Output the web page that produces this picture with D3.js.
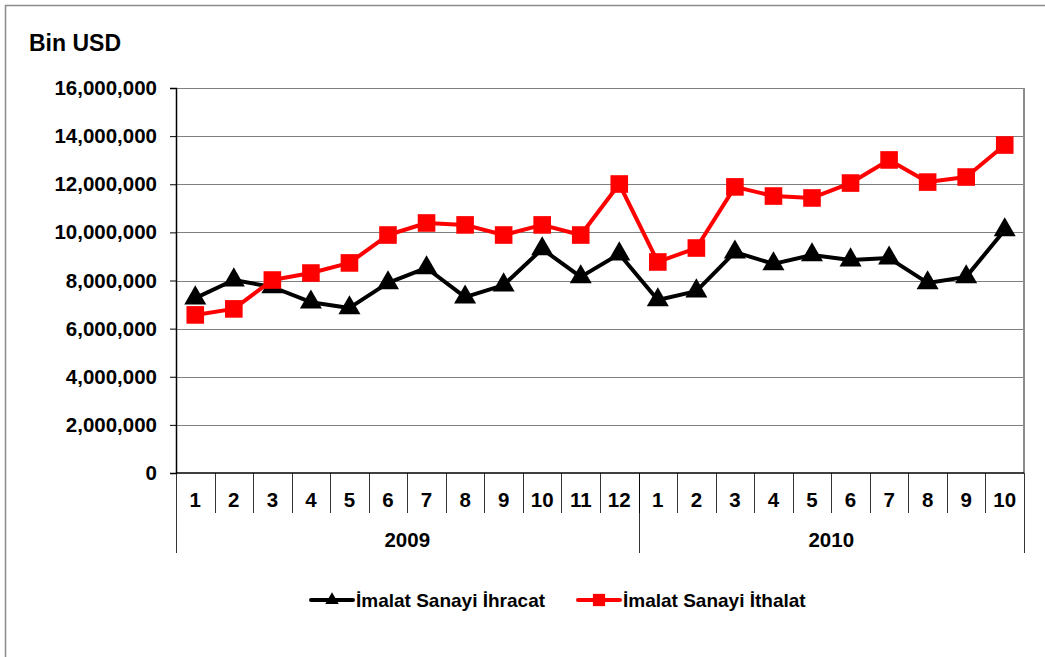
<!DOCTYPE html>
<head>
  <meta charset="utf-8">
  <script src="https://d3js.org/d3.v7.min.js"></script>
  <style>
    body { margin: 0; background: #fff; }
    text { font-family: 'Liberation Sans', Arial, sans-serif; font-weight: bold; fill: #000; }
  </style>
</head>
<body>
  <div id="chart"></div>
  <script>
    var years = ["2009", "2010"];
    var months2009 = ["1","2","3","4","5","6","7","8","9","10","11","12"];
    var months2010 = ["1","2","3","4","5","6","7","8","9","10"];
    var yTicks = [0, 2000000, 4000000, 6000000, 8000000, 10000000, 12000000, 14000000, 16000000];

    var ihracat = [7270000, 8020000, 7730000, 7100000, 6860000, 7900000, 8520000, 7310000, 7810000, 9310000, 8150000, 9100000,
                   7190000, 7560000, 9180000, 8690000, 9060000, 8850000, 8930000, 7900000, 8150000, 10100000];
    var ithalat = [6570000, 6820000, 8020000, 8310000, 8730000, 9890000, 10390000, 10310000, 9890000, 10310000, 9890000, 12010000,
                   8770000, 9350000, 11890000, 11510000, 11430000, 12050000, 13010000, 12090000, 12300000, 13630000];

    var seriesNames = ["İmalat Sanayi İhracat", "İmalat Sanayi İthalat"];

    var W = 1045, H = 657;
    var margin = {top: 88, right: 21, bottom: 184, left: 176};
    var width = W - margin.left - margin.right,
      height = H - margin.top - margin.bottom;

    var cats = months2009.map((m, i) => ({key: "2009-" + i, label: m, year: "2009"}))
      .concat(months2010.map((m, i) => ({key: "2010-" + i, label: m, year: "2010"})));

    var svg = d3.select("#chart").append("svg")
      .attr("width", W)
      .attr("height", H);

    // outer frame (continues past the window at right/bottom)
    svg.append("rect")
      .attr("x", 5.5).attr("y", 5.5)
      .attr("width", W + 10).attr("height", H + 10)
      .attr("fill", "none").attr("stroke", "#8c8c8c").attr("stroke-width", 1.5);

    svg.append("text")
      .attr("x", 29).attr("y", 51)
      .style("font-size", "23px")
      .text("Bin USD");

    var g = svg.append("g")
      .attr("transform", "translate(" + margin.left + "," + margin.top + ")");

    var x = d3.scaleBand()
      .domain(cats.map(d => d.key))
      .range([0, width]);

    var y = d3.scaleLinear()
      .domain([0, 16000000])
      .range([height, 0]);

    // gridlines
    g.append("g")
      .selectAll("line")
      .data(yTicks.slice(1))
      .join("line")
      .attr("x1", 0).attr("x2", width)
      .attr("y1", d => Math.round(y(d)) + 0.5).attr("y2", d => Math.round(y(d)) + 0.5)
      .attr("stroke", "#7f7f7f").attr("stroke-width", 1);

    // right plot border
    g.append("line")
      .attr("x1", width).attr("x2", width)
      .attr("y1", 0).attr("y2", height)
      .attr("stroke", "#8c8c8c").attr("stroke-width", 2);

    // y axis
    var yAxis = g.append("g")
      .call(d3.axisLeft(y)
        .tickValues(yTicks)
        .tickSize(6)
        .tickPadding(13)
        .tickFormat(d3.format(",")));
    yAxis.select(".domain").attr("stroke", "#000").attr("stroke-width", 1.5);
    yAxis.selectAll(".tick line").attr("stroke", "#000");
    yAxis.selectAll(".tick text")
      .style("font-size", "20.5px")
      .style("font-family", "'Liberation Sans', Arial, sans-serif")
      .style("font-weight", "bold")
      .attr("fill", "#000");

    // x axis line
    g.append("line")
      .attr("x1", 0).attr("x2", width)
      .attr("y1", height).attr("y2", height)
      .attr("stroke", "#000").attr("stroke-width", 1.5);

    // month separators
    var xAx = g.append("g").attr("transform", "translate(0," + height + ")");
    xAx.selectAll(".sep")
      .data(cats.slice(1))
      .join("line")
      .attr("x1", d => Math.round(x(d.key)) + 0.5).attr("x2", d => Math.round(x(d.key)) + 0.5)
      .attr("y1", 0).attr("y2", 40)
      .attr("stroke", "#000").attr("stroke-width", 0.8);

    xAx.selectAll(".mlab")
      .data(cats)
      .join("text")
      .attr("x", d => x(d.key) + x.bandwidth() / 2)
      .attr("y", 34)
      .attr("text-anchor", "middle")
      .style("font-size", "20.5px")
      .text(d => d.label);

    // year separators
    var yearBounds = [0, x("2010-0"), width];
    xAx.selectAll(".ysep")
      .data(yearBounds)
      .join("line")
      .attr("x1", d => Math.round(d) + 0.5).attr("x2", d => Math.round(d) + 0.5)
      .attr("y1", 0).attr("y2", 80)
      .attr("stroke", "#000").attr("stroke-width", 0.8);

    xAx.selectAll(".ylab")
      .data(years)
      .join("text")
      .attr("x", (d, i) => (yearBounds[i] + yearBounds[i + 1]) / 2)
      .attr("y", 74)
      .attr("text-anchor", "middle")
      .style("font-size", "20.5px")
      .text(d => d);

    var line = d3.line()
      .x((d, i) => x(cats[i].key) + x.bandwidth() / 2)
      .y(d => y(d));

    var tri = d3.symbol().type(d3.symbolTriangle).size(210);
    var sq = d3.symbol().type(d3.symbolSquare).size(310);

    g.append("path")
      .datum(ihracat)
      .attr("d", line)
      .attr("fill", "none").attr("stroke", "#000").attr("stroke-width", 4)
      .attr("stroke-linejoin", "round");
    g.append("g").selectAll("path")
      .data(ihracat)
      .join("path")
      .attr("d", tri)
      .attr("transform", (d, i) => "translate(" + (x(cats[i].key) + x.bandwidth() / 2) + "," + y(d) + ")")
      .attr("fill", "#000");

    g.append("path")
      .datum(ithalat)
      .attr("d", line)
      .attr("fill", "none").attr("stroke", "#ff0000").attr("stroke-width", 4)
      .attr("stroke-linejoin", "round");
    g.append("g").selectAll("path")
      .data(ithalat)
      .join("path")
      .attr("d", sq)
      .attr("transform", (d, i) => "translate(" + (x(cats[i].key) + x.bandwidth() / 2) + "," + y(d) + ")")
      .attr("fill", "#ff0000");

    // legend
    var legend = svg.append("g");
    var items = [
      {name: seriesNames[0], color: "#000", sym: d3.symbol().type(d3.symbolTriangle).size(80), x: 311},
      {name: seriesNames[1], color: "#ff0000", sym: d3.symbol().type(d3.symbolSquare).size(150), x: 578}
    ];
    var li = legend.selectAll("g")
      .data(items)
      .join("g")
      .attr("transform", d => "translate(" + d.x + ",600)");
    li.append("line")
      .attr("x1", 0).attr("x2", 42)
      .attr("stroke", d => d.color).attr("stroke-width", 4)
      .attr("stroke-linecap", "round");
    li.append("path")
      .attr("d", d => d.sym())
      .attr("transform", "translate(21,0)")
      .attr("fill", d => d.color);
    li.append("text")
      .attr("x", 45)
      .attr("y", 7)
      .style("font-size", "19px")
      .text(d => d.name);
  </script>
</body>
